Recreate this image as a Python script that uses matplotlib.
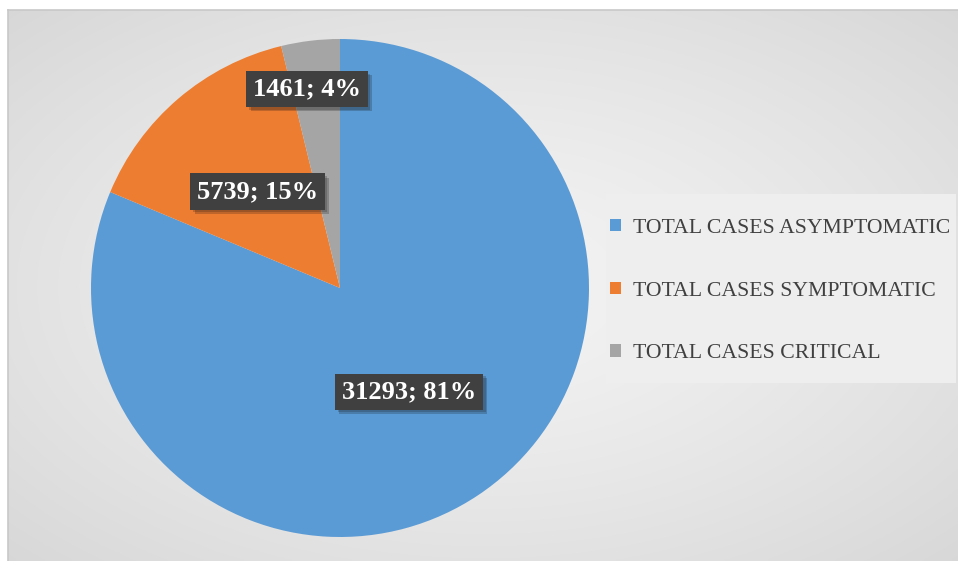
import numpy as np
import matplotlib.pyplot as plt
import matplotlib.patheffects as pe
from matplotlib.patches import Rectangle

labels = ['TOTAL CASES ASYMPTOMATIC', 'TOTAL CASES SYMPTOMATIC', 'TOTAL CASES CRITICAL']
values = [31293, 5739, 1461]
percents = ['81%', '15%', '4%']
colors = ['#5B9BD5', '#ED7D31', '#A5A5A5']
label_dist = [0.5, 0.51, 0.81]
label_turn = [0, 0, 2.6]  # degrees, nudges the label off the wedge middle

W, H = 958, 561
fig = plt.figure(figsize=(W / 100, H / 100), dpi=100)
fig.patch.set_facecolor('white')

# background panel with radial gradient
bg = fig.add_axes([8 / W, 0, (W - 8) / W, (H - 10) / H])
yy, xx = np.mgrid[0:200, 0:340]
r = np.hypot((xx - 170) / 170, (yy - 100) / 100) / np.sqrt(2)
grad = 0.955 - 0.11 * r ** 1.3
bg.imshow(np.dstack([grad] * 3), aspect='auto', extent=[0, 1, 0, 1], interpolation='bilinear')
bg.set_xticks([])
bg.set_yticks([])
for s in bg.spines.values():
    s.set_color('#c8c8c8')
    s.set_linewidth(1.2)
bg.spines['right'].set_visible(False)
bg.spines['bottom'].set_visible(False)

# legend background box
fig.patches.append(Rectangle((606 / W, 1 - 383 / H), 350 / W, 189 / H, transform=fig.transFigure,
                             facecolor='#eeeeee', edgecolor='none', zorder=1))

# pie
cx, cy, rad = 340, 288, 249
ax = fig.add_axes([(cx - rad) / W, (H - cy - rad) / H, 2 * rad / W, 2 * rad / H])
wedges, _ = ax.pie(values, colors=colors, startangle=90, counterclock=False, radius=1)
ax.set_xlim(-1, 1)
ax.set_ylim(-1, 1)
ax.set_aspect('auto')
ax.axis('off')

for w, v, p, d, t in zip(wedges, values, percents, label_dist, label_turn):
    ang = np.deg2rad((w.theta1 + w.theta2) / 2 + t)
    ax.text(d * np.cos(ang), d * np.sin(ang), f'{v}; {p}', ha='center', va='center',
            fontsize=19, fontweight='bold', family='Liberation Serif', color='white',
            bbox=dict(boxstyle='square,pad=0.25', facecolor='#404040', edgecolor='none',
                      path_effects=[pe.withSimplePatchShadow(offset=(3, -3), alpha=0.22),
                                    pe.withSimplePatchShadow(offset=(2, -2), alpha=0.2)]))

# legend
leg = fig.legend(wedges, labels, loc='upper left', bbox_to_anchor=(610 / W, 1 - 219 / H),
                 frameon=False, borderaxespad=0, borderpad=0,
                 labelspacing=2.0, handlelength=0.5, handleheight=0.5,
                 handletextpad=0.55,
                 prop={'family': 'Liberation Serif', 'size': 15.7})
for t in leg.get_texts():
    t.set_color('#404040')

fig.savefig('out.png', dpi=100)
